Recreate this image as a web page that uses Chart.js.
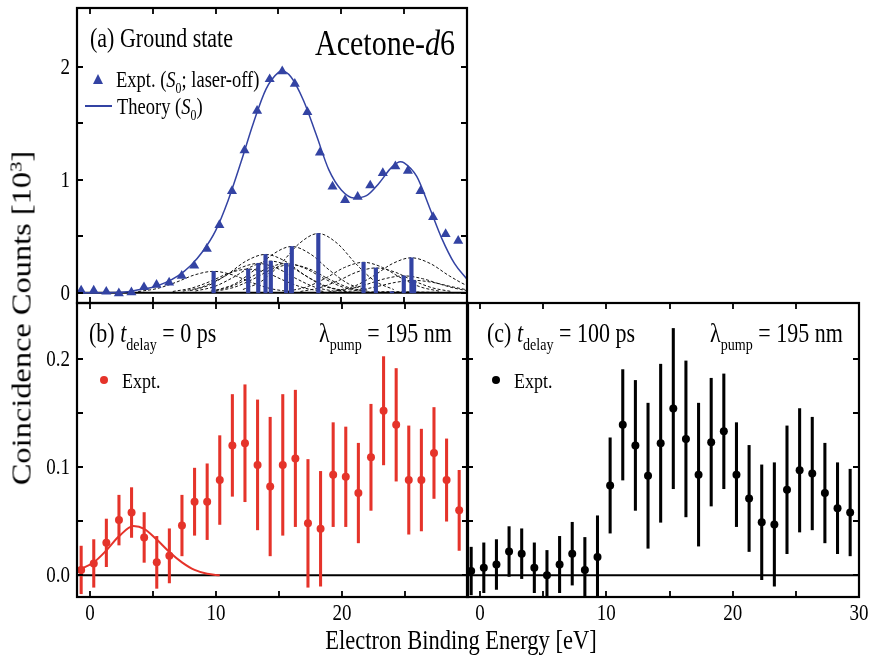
<!DOCTYPE html>
<html>
<head>
<meta charset="utf-8">
<script src="https://cdn.jsdelivr.net/npm/chart.js@4.4.1/dist/chart.umd.min.js"></script>
<style>
  body { margin: 0; background: #fff; }
  #figure { position: relative; width: 870px; height: 657px; overflow: hidden;
            font-family: "Liberation Serif", "Times New Roman", serif; color: #000; }
  #figure canvas { position: absolute; left: 0; top: 0; }
  .txt { position: absolute; white-space: nowrap; line-height: 1;
         transform-origin: 0 50%; transform: translate(0, -50%) scaleY(1.2); }
  .mid { transform-origin: 50% 50%; transform: translate(-50%, -50%) scaleY(1.2); }
  .vert { transform-origin: 50% 50%; transform: translate(-50%, -50%) scaleY(1.2) rotate(-90deg); }
  sub { font-size: 0.64em; vertical-align: -0.45em; line-height: 0; }
  sup { font-size: 0.64em; vertical-align: 0.55em; line-height: 0; }
  .tri { position: absolute; width: 0; height: 0; border-left: 5.5px solid transparent;
         border-right: 5.5px solid transparent; border-bottom: 10px solid #3343a3; }
  .dot { position: absolute; width: 8px; height: 8px; border-radius: 50%; }
  .seg { position: absolute; height: 2px; background: #3343a3; }
</style>
</head>
<body>
<div id="figure">
  <canvas id="groundChart" width="870" height="657"></canvas>
  <canvas id="delay0Chart" width="870" height="657"></canvas>
  <canvas id="delay100Chart" width="870" height="657"></canvas>

  <div class="txt" style="left:90px; top:39px; font-size:22px;">(a) Ground state</div>
  <div class="txt" style="left:315px; top:43px; font-size:30px;">Acetone-<i>d</i>6</div>
  <div class="tri" style="left:93px; top:74px;"></div>
  <div class="txt" style="left:116px; top:80px; font-size:18.5px;">Expt. (<i>S</i><sub>0</sub>; laser-off)</div>
  <div class="seg" style="left:85px; top:105px; width:27px;"></div>
  <div class="txt" style="left:117px; top:107px; font-size:18.5px;">Theory (<i>S</i><sub>0</sub>)</div>

  <div class="txt" style="left:89px; top:334px; font-size:22px;">(b) <i>t</i><sub>delay</sub> = 0 ps</div>
  <div class="txt" style="left:319px; top:334px; font-size:22px;">&lambda;<sub>pump</sub> = 195 nm</div>
  <div class="dot" style="left:100px; top:376px; background:#e5332a;"></div>
  <div class="txt" style="left:122px; top:381px; font-size:18px;">Expt.</div>

  <div class="txt" style="left:487px; top:334px; font-size:22px;">(c) <i>t</i><sub>delay</sub> = 100 ps</div>
  <div class="txt" style="left:710px; top:334px; font-size:22px;">&lambda;<sub>pump</sub> = 195 nm</div>
  <div class="dot" style="left:492px; top:376px; background:#000;"></div>
  <div class="txt" style="left:514px; top:381px; font-size:18px;">Expt.</div>

  <div class="txt vert" style="left:22px; top:318px; font-size:27px;">Coincidence Counts [10<sup>3</sup>]</div>
  <div class="txt mid" style="left:461px; top:641px; font-size:22.5px;">Electron Binding Energy [eV]</div>
</div>

<script>
// binding energies of the measured points (shared by all three panels)
const energy = [-0.7, 0.3, 1.3, 2.3, 3.3, 4.3, 5.3, 6.3, 7.3, 8.3, 9.3, 10.3, 11.3, 12.3, 13.3,
  14.3, 15.3, 16.3, 17.3, 18.3, 19.3, 20.3, 21.3, 22.3, 23.3, 24.3, 25.3, 26.3, 27.3, 28.3, 29.3];

// (a) ground state, laser off [10^3 counts]
const groundExpt = [0.02, 0.02, 0.01, -0.005, 0.005, 0.05, 0.07, 0.09, 0.15, 0.24, 0.39, 0.60,
  0.90, 1.26, 1.61, 1.89, 1.96, 1.85, 1.60, 1.24, 0.94, 0.82, 0.85, 0.95, 1.06, 1.12, 1.08,
  0.90, 0.67, 0.52, 0.46];

const theoryE = [-1, 2, 3, 4, 5, 6, 7, 8, 9, 10, 11, 12, 13, 14, 15, 15.3, 16, 17, 18, 19, 20,
  21, 22, 23, 24, 24.7, 25, 26, 27, 28, 29, 30];
const theoryS0 = [0, 0.002, 0.01, 0.03, 0.05, 0.09, 0.15, 0.24, 0.37, 0.55, 0.82, 1.15, 1.50,
  1.80, 1.95, 1.96, 1.91, 1.70, 1.40, 1.09, 0.91, 0.84, 0.86, 0.97, 1.11, 1.16, 1.15, 1.03,
  0.76, 0.48, 0.26, 0.12];

// calculated ionization lines and their broadened bands
const stickE = [9.84, 12.59, 13.39, 13.97, 14.39, 15.61, 16.0, 16.06, 18.17, 21.77, 22.75,
  24.02, 24.97, 25.58, 25.79];
const stickI = [0.19, 0.21, 0.26, 0.34, 0.28, 0.26, 0.25, 0.41, 0.525, 0.27, 0.22, 0.01, 0.15,
  0.31, 0.11];
const bandShift = [-6, -4.5, -3, -1.5, 0, 1.5, 3, 4.5, 6];
const bandY = [
  [0.011, 0.038, 0.093, 0.159, 0.19, 0.159, 0.093, 0.038, 0.011],
  [0.012, 0.042, 0.102, 0.175, 0.21, 0.175, 0.102, 0.042, 0.012],
  [0.015, 0.051, 0.127, 0.217, 0.26, 0.217, 0.127, 0.051, 0.015],
  [0.019, 0.067, 0.166, 0.284, 0.34, 0.284, 0.166, 0.067, 0.019],
  [0.016, 0.055, 0.136, 0.234, 0.28, 0.234, 0.136, 0.055, 0.016],
  [0.015, 0.051, 0.127, 0.217, 0.26, 0.217, 0.127, 0.051, 0.015],
  [0.014, 0.050, 0.122, 0.209, 0.25, 0.209, 0.122, 0.050, 0.014],
  [0.023, 0.081, 0.200, 0.342, 0.41, 0.342, 0.200, 0.081, 0.023],
  [0.029, 0.104, 0.256, 0.438, 0.525, 0.438, 0.256, 0.104, 0.029],
  [0.015, 0.053, 0.131, 0.225, 0.27, 0.225, 0.131, 0.053, 0.015],
  [0.012, 0.044, 0.107, 0.184, 0.22, 0.184, 0.107, 0.044, 0.012],
  [0.001, 0.002, 0.005, 0.008, 0.01, 0.008, 0.005, 0.002, 0.001],
  [0.008, 0.030, 0.073, 0.125, 0.15, 0.125, 0.073, 0.030, 0.008],
  [0.017, 0.061, 0.151, 0.259, 0.31, 0.259, 0.151, 0.061, 0.017],
  [0.006, 0.022, 0.054, 0.092, 0.11, 0.092, 0.054, 0.022, 0.006]
];

// (b) t_delay = 0 ps
const delay0Counts = [0.005, 0.011, 0.030, 0.051, 0.058, 0.035, 0.012, 0.018, 0.046, 0.068,
  0.068, 0.088, 0.120, 0.122, 0.102, 0.082, 0.102, 0.108, 0.048, 0.043, 0.093, 0.091, 0.076,
  0.109, 0.152, 0.139, 0.088, 0.088, 0.113, 0.088, 0.060];
const delay0Err = [0.022, 0.022, 0.022, 0.023, 0.023, 0.023, 0.024, 0.025, 0.028, 0.031, 0.035,
  0.041, 0.047, 0.054, 0.060, 0.064, 0.065, 0.063, 0.059, 0.053, 0.048, 0.046, 0.046, 0.049,
  0.050, 0.052, 0.050, 0.047, 0.042, 0.038, 0.037];
const fitE = [-0.7, 0.3, 1.3, 2.3, 3.45, 4.3, 5.3, 6.3, 7.3, 8.3, 9.3, 10.3];
const fitY = [0.006, 0.012, 0.023, 0.036, 0.0455, 0.043, 0.033, 0.0215, 0.012, 0.005, 0.0015, 0];

// (c) t_delay = 100 ps
const delay100Counts = [0.004, 0.007, 0.010, 0.022, 0.020, 0.007, 0.000, 0.010, 0.020, 0.005,
  0.017, 0.083, 0.139, 0.120, 0.092, 0.122, 0.154, 0.126, 0.093, 0.123, 0.133, 0.093, 0.071,
  0.049, 0.047, 0.079, 0.097, 0.094, 0.076, 0.062, 0.058];
const delay100Err = [0.022, 0.023, 0.023, 0.023, 0.023, 0.023, 0.023, 0.026, 0.029, 0.030,
  0.038, 0.044, 0.051, 0.060, 0.067, 0.073, 0.074, 0.072, 0.066, 0.059, 0.053, 0.048, 0.049,
  0.053, 0.057, 0.059, 0.057, 0.052, 0.046, 0.042, 0.040];

// axis ticks
const energyMajor = [0, 10, 20, 30];
const energyMinor = [5, 15, 25];
const groundTicks = [0, 1, 2];
const groundMinor = [0.5, 1.5];
const groundTickText = ['0', '1', '2'];
const delayTicks = [0, 0.1, 0.2];
const delayMinor = [0.05, 0.15];
const delayTickText = ['0.0', '0.1', '0.2'];

const BLUE = '#3343a3';
const RED = '#e5332a';
const TEXT_SY = 1.2;

const pts = (xs, ys) => xs.map((x, i) => ({ x, y: ys[i] }));
const bars = (vals, errs) => energy.map((x, i) => ({ x, y: [vals[i] - errs[i], vals[i] + errs[i]] }));

function stretchedText(ctx, text, x, y) {
  ctx.save();
  ctx.translate(x, y);
  ctx.scale(1, TEXT_SY);
  ctx.fillText(text, 0, 0);
  ctx.restore();
}

// box frame, inward ticks on all four sides and the tick labels
const frameTicks = {
  id: 'frameTicks',
  afterDatasetsDraw(chart, args, o) {
    const { ctx, chartArea: a } = chart;
    const x = chart.scales.x, y = chart.scales.y;
    ctx.save();
    ctx.strokeStyle = '#000';
    ctx.lineWidth = 1.8;
    ctx.beginPath();
    o.xTicks.forEach(v => {
      const px = Math.round(x.getPixelForValue(v));
      ctx.moveTo(px, a.bottom); ctx.lineTo(px, a.bottom - 6);
      ctx.moveTo(px, a.top); ctx.lineTo(px, a.top + 6);
    });
    o.yTicks.forEach(v => {
      const py = Math.round(y.getPixelForValue(v));
      ctx.moveTo(a.left, py); ctx.lineTo(a.left + 6, py);
      ctx.moveTo(a.right, py); ctx.lineTo(a.right - 6, py);
    });
    ctx.stroke();
    ctx.lineWidth = 2.2;
    ctx.strokeRect(a.left, a.top, a.right - a.left, a.bottom - a.top);

    ctx.fillStyle = '#000';
    ctx.font = '19px "Liberation Serif"';
    ctx.textBaseline = 'middle';
    ctx.textAlign = 'right';
    (o.yLabels || []).forEach((t, i) => stretchedText(ctx, t, a.left - 7, y.getPixelForValue(o.yLabelAt[i]) + 1));
    ctx.textAlign = 'center';
    (o.xLabels || []).forEach((t, i) => stretchedText(ctx, t, x.getPixelForValue(o.xLabelAt[i]), a.bottom + 17));
    ctx.restore();
  }
};

function panelOptions(pad, yMin, yMax, frame) {
  return {
    responsive: false,
    animation: false,
    events: [],
    layout: { padding: pad },
    scales: {
      x: { type: 'linear', min: -1.03, max: 30, display: false, offset: false },
      y: { type: 'linear', min: yMin, max: yMax, display: false }
    },
    plugins: { legend: { display: false }, tooltip: { enabled: false }, frameTicks: frame }
  };
}

const zeroLine = {
  type: 'line', data: [{ x: -1.03, y: 0 }, { x: 30, y: 0 }],
  borderColor: '#000', borderWidth: 2, pointRadius: 0
};

// (a) ground state
const bandSets = stickE.map((e, i) => ({
  type: 'line', order: 5,
  data: bandShift.map((d, j) => ({ x: e + d, y: bandY[i][j] })),
  borderColor: '#111', borderWidth: 1, borderDash: [3, 2],
  pointRadius: 0, cubicInterpolationMode: 'monotone'
}));

new Chart(document.getElementById('groundChart'), {
  type: 'scatter',
  data: {
    datasets: [
      { type: 'scatter', order: 0, data: pts(energy, groundExpt), pointStyle: 'triangle',
        pointRadius: 5.8, backgroundColor: BLUE, borderColor: BLUE, borderWidth: 0 },
      { type: 'line', order: 1, data: pts(theoryE, theoryS0), borderColor: BLUE, borderWidth: 1.5,
        pointRadius: 0, cubicInterpolationMode: 'monotone' },
      { type: 'bar', order: 2, data: pts(stickE, stickI), backgroundColor: BLUE, barThickness: 3.5 },
      { ...zeroLine, order: 3 },
      ...bandSets
    ]
  },
  options: panelOptions({ left: 77, right: 403, top: 8, bottom: 354 }, -0.09, 2.52, {
    xTicks: energyMajor.concat(energyMinor), yTicks: groundTicks.concat(groundMinor),
    yLabels: groundTickText, yLabelAt: groundTicks
  }),
  plugins: [frameTicks]
});

// (b) t_delay = 0 ps
new Chart(document.getElementById('delay0Chart'), {
  type: 'scatter',
  data: {
    datasets: [
      { type: 'scatter', order: 0, data: pts(energy, delay0Counts), pointRadius: 4,
        backgroundColor: RED, borderWidth: 0 },
      { type: 'bar', order: 1, data: bars(delay0Counts, delay0Err), backgroundColor: RED, barThickness: 2.4 },
      { type: 'line', order: 2, data: pts(fitE, fitY), borderColor: RED, borderWidth: 2,
        pointRadius: 0, cubicInterpolationMode: 'monotone' },
      { ...zeroLine, order: 3 }
    ]
  },
  options: panelOptions({ left: 77, right: 402, top: 303, bottom: 60 }, -0.02, 0.2515, {
    xTicks: energyMajor.concat(energyMinor), yTicks: delayTicks.concat(delayMinor),
    yLabels: delayTickText, yLabelAt: delayTicks,
    xLabels: ['0', '10', '20'], xLabelAt: [0, 10, 20]
  }),
  plugins: [frameTicks]
});

// (c) t_delay = 100 ps
new Chart(document.getElementById('delay100Chart'), {
  type: 'scatter',
  data: {
    datasets: [
      { type: 'scatter', order: 0, data: pts(energy, delay100Counts), pointRadius: 4,
        backgroundColor: '#000', borderWidth: 0 },
      { type: 'bar', order: 1, data: bars(delay100Counts, delay100Err), backgroundColor: '#000', barThickness: 2.4 },
      { ...zeroLine, order: 2 }
    ]
  },
  options: panelOptions({ left: 467, right: 11, top: 303, bottom: 60 }, -0.02, 0.2515, {
    xTicks: energyMajor.concat(energyMinor), yTicks: delayTicks.concat(delayMinor),
    xLabels: ['0', '10', '20', '30'], xLabelAt: [0, 10, 20, 30]
  }),
  plugins: [frameTicks]
});
</script>
</body>
</html>
